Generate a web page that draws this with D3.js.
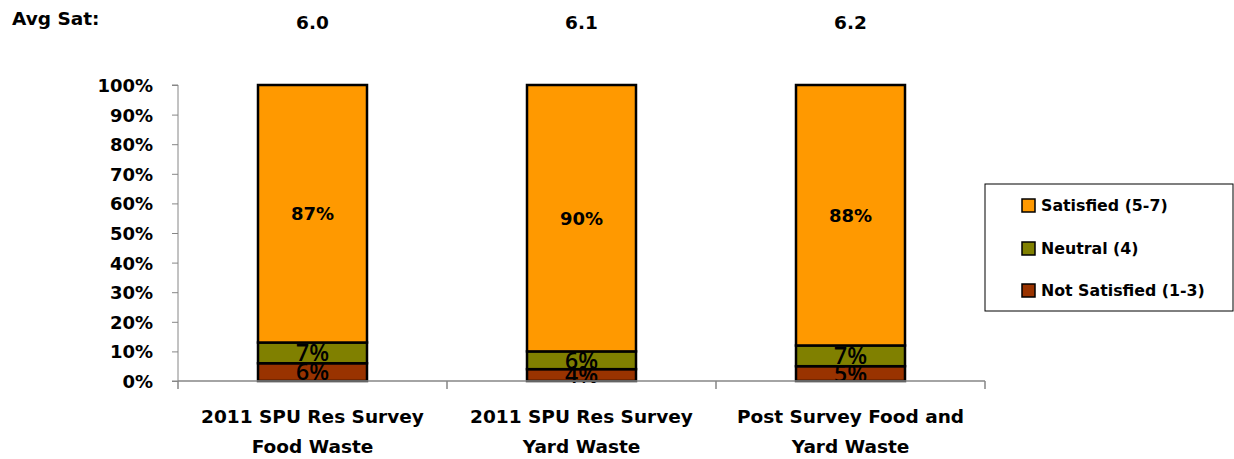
<!DOCTYPE html>
<html lang="en">
<head>
<meta charset="UTF-8">
<title>Satisfaction</title>
<script src="https://d3js.org/d3.v7.min.js"></script>
<style>
    body { margin: 0; background: #fff; }
    svg text { font-family: "DejaVu Sans", sans-serif; font-weight: bold; fill: #000; }
</style>
</head>
<body>
<div id="chart"></div>
<script>
var categories = [["2011 SPU Res Survey", "Food Waste"], ["2011 SPU Res Survey", "Yard Waste"], ["Post Survey Food and", "Yard Waste"]];
var avgSat = ["6.0", "6.1", "6.2"];
var notSatisfied = [6, 4, 5];
var neutral = [7, 6, 7];
var satisfied = [87, 90, 88];
var seriesNames = ["Not Satisfied (1-3)", "Neutral (4)", "Satisfied (5-7)"];
var seriesColors = ["#993300", "#808000", "#ff9900"];
var yTicks = [0, 10, 20, 30, 40, 50, 60, 70, 80, 90, 100];

var width = 1234, height = 459;
var svg = d3.select("#chart").append("svg")
    .attr("width", width).attr("height", height);

var x = d3.scaleBand().domain(d3.range(categories.length)).range([178, 985]).paddingInner(0).paddingOuter(0);
var y = d3.scaleLinear().domain([0, 100]).range([381, 85]);

var rows = categories.map(function(c, i) {
    return { i: i, a: notSatisfied[i], b: neutral[i], c: satisfied[i] };
});
var stack = d3.stack().keys(["a", "b", "c"]);
var layers = stack(rows);

// y axis
var yAxis = svg.append("g").attr("transform", "translate(178,0)")
    .call(d3.axisLeft(y).tickValues(yTicks).tickSize(6).tickPadding(19)
        .tickFormat(function(d) { return d + "%"; }));
yAxis.select(".domain").attr("stroke", "#868686").attr("d", "M-6,85H0V381H-6");
yAxis.selectAll(".tick line").attr("stroke", "#868686");
yAxis.selectAll("text").style("font-size", "18px").attr("dy", "0.36em");

// bars
var barW = 109;
var g = svg.append("g");
layers.forEach(function(layer, li) {
    g.selectAll(null).data(layer).enter().append("rect")
        .attr("x", function(d) { return x(d.data.i) + x.bandwidth() / 2 - barW / 2; })
        .attr("y", function(d) { return y(d[1]); })
        .attr("width", barW)
        .attr("height", function(d) { return y(d[0]) - y(d[1]); })
        .attr("fill", seriesColors[li])
        .attr("stroke", "#000").attr("stroke-width", 2.5);
});

// x axis
var xAxisG = svg.append("g");
xAxisG.append("line").attr("x1", 178).attr("x2", 985).attr("y1", 381).attr("y2", 381)
    .attr("stroke", "#868686").attr("stroke-width", 1.5);
var bounds = [178].concat(categories.map(function(c, i) { return x(i) + x.bandwidth(); }));
xAxisG.selectAll(null).data(bounds).enter().append("line")
    .attr("x1", function(d) { return d; }).attr("x2", function(d) { return d; })
    .attr("y1", 381).attr("y2", 389).attr("stroke", "#868686").attr("stroke-width", 1.5);

// data labels (small segments use a taller face like the original)
layers.forEach(function(layer, li) {
    g.selectAll(null).data(layer).enter().append("text")
        .attr("x", function(d) { return x(d.data.i) + x.bandwidth() / 2; })
        .attr("y", function(d) { return (y(d[0]) + y(d[1])) / 2; })
        .attr("dy", "0.36em")
        .attr("text-anchor", "middle")
        .style("font-family", li === 2 ? null : "'Open Sans', sans-serif")
        .style("font-size", li === 2 ? "18px" : "23px")
        .style("font-weight", li === 2 ? "bold" : "600")
        .text(function(d) { return (d[1] - d[0]) + "%"; });
});

// category labels
categories.forEach(function(c, i) {
    var cx = x(i) + x.bandwidth() / 2;
    var t = svg.append("text")
        .attr("x", cx)
        .attr("y", 423)
        .attr("text-anchor", "middle")
        .style("font-size", "18.5px");
    t.append("tspan").attr("x", cx).text(c[0]);
    t.append("tspan").attr("x", cx).attr("dy", 30).text(c[1]);
});

// avg sat row
svg.append("text").attr("x", 12).attr("y", 25).style("font-size", "18.5px").text("Avg Sat:");
svg.selectAll(null).data(avgSat).enter().append("text")
    .attr("x", function(d, i) { return x(i) + x.bandwidth() / 2; })
    .attr("y", 29)
    .attr("text-anchor", "middle")
    .style("font-size", "18.5px")
    .text(function(d) { return d; });

// legend
var leg = svg.append("g");
leg.append("rect").attr("x", 985).attr("y", 184).attr("width", 248).attr("height", 127)
    .attr("fill", "#fff").attr("stroke", "#000").attr("stroke-width", 1);
var legOrder = [2, 1, 0];
var legY = [205, 248, 290];
legOrder.forEach(function(si, k) {
    leg.append("rect").attr("x", 1022).attr("y", legY[k] - 6).attr("width", 13).attr("height", 13)
        .attr("fill", seriesColors[si]).attr("stroke", "#000").attr("stroke-width", 1.5);
    leg.append("text").attr("x", 1041).attr("y", legY[k]).attr("dy", "0.36em")
        .style("font-size", "15.8px").text(seriesNames[si]);
});
</script>
</body>
</html>
